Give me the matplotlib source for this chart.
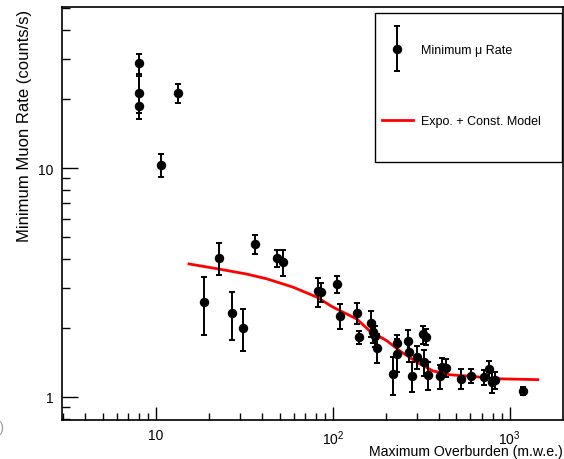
import numpy as np
import matplotlib
matplotlib.use("Agg")
import matplotlib.pyplot as plt
from matplotlib.patches import Rectangle
from matplotlib.container import ErrorbarContainer
from matplotlib.legend_handler import HandlerErrorbar
from matplotlib.ticker import FixedLocator, FixedFormatter, NullFormatter

plt.rcParams['font.family'] = ['Liberation Sans', 'DejaVu Sans']
plt.rcParams['mathtext.fontset'] = 'custom'
plt.rcParams['mathtext.rm'] = 'Liberation Sans'

# --- data ---
overburden = [8.0, 8.0, 8.0, 13.3, 10.7, 18.7, 22.7, 26.8, 31.0, 36.2,
              48.3, 52.2, 82.3, 85.5, 105.4, 109.5, 136.7, 140.3, 164, 168,
              173, 177, 218, 230, 230, 265, 269, 279, 298, 322,
              335, 327, 344, 402, 413, 435, 528, 603, 713, 760,
              790, 822, 1184]
min_rate = [28.7, 21.3, 18.7, 21.3, 10.3, 2.60, 4.05, 2.33, 2.00, 4.66,
            4.05, 3.89, 2.90, 2.87, 3.11, 2.26, 2.33, 1.83, 2.10, 1.92,
            1.85, 1.64, 1.26, 1.54, 1.72, 1.76, 1.57, 1.235, 1.50, 1.88,
            1.83, 1.42, 1.247, 1.235, 1.352, 1.34, 1.20, 1.235, 1.22, 1.325,
            1.163, 1.186, 1.062]
rate_err = [2.9, 3.9, 2.3, 2.0, 1.2, 0.73, 0.63, 0.55, 0.41, 0.45,
            0.35, 0.51, 0.42, 0.27, 0.27, 0.28, 0.25, 0.12, 0.27, 0.2,
            0.2, 0.24, 0.24, 0.25, 0.15, 0.2, 0.15, 0.18, 0.17, 0.17,
            0.15, 0.18, 0.17, 0.15, 0.13, 0.12, 0.12, 0.09, 0.09, 0.11,
            0.12, 0.1, 0.04]

# expo + const model curve
model_x = [15.4, 22.7, 32.7, 42.4, 59.4, 81.2, 100, 136.7, 162, 202,
           239, 298, 367, 458, 571, 878, 1440]
model_y = [3.81, 3.62, 3.44, 3.28, 3.02, 2.73, 2.47, 2.19, 1.94, 1.76,
           1.59, 1.42, 1.30, 1.25, 1.235, 1.20, 1.19]

fig = plt.figure(figsize=(5.64, 4.60), dpi=100)
ax = fig.add_axes([62/564, 1 - 421/460, 501/564, 413/460])

eb = ax.errorbar(overburden, min_rate, yerr=rate_err, fmt='o', color='black',
                 ms=5.8, elinewidth=1.4, capsize=2.2, capthick=1.4,
                 label='Minimum \u03bc Rate', zorder=3)
model_line, = ax.plot(model_x, model_y, color='red', lw=2.0,
                      label='Expo. + Const. Model', zorder=2)

ax.set_xscale('log')
ax.set_yscale('log')
ax.set_xlim(2.95, 2000)
ax.set_ylim(0.793, 50.5)

# --- ticks (ROOT style: inside, bottom/left only) ---
ax.xaxis.set_major_locator(FixedLocator([10, 100, 1000]))
ax.xaxis.set_major_formatter(FixedFormatter(['10', r'$\mathdefault{10^{2}}$',
                                             r'$\mathdefault{10^{3}}$']))
xminor = [m * d for d in [1, 10, 100] for m in range(2, 10)]
ax.xaxis.set_minor_locator(FixedLocator(xminor))
ax.xaxis.set_minor_formatter(NullFormatter())

ax.yaxis.set_major_locator(FixedLocator([1, 10]))
ax.yaxis.set_major_formatter(FixedFormatter(['1', '10']))
yminor = [0.8, 0.9] + [m * d for d in [1, 10] for m in range(2, 10)]
ax.yaxis.set_minor_locator(FixedLocator(yminor))
ax.yaxis.set_minor_formatter(NullFormatter())

ax.tick_params(axis='both', which='both', direction='in', top=False,
               right=False, width=1.0, labelsize=10, pad=6)
ax.tick_params(axis='x', which='major', length=9.5)
ax.tick_params(axis='x', which='minor', length=5)
ax.tick_params(axis='y', which='major', length=11.5)
ax.tick_params(axis='y', which='minor', length=5.8)
for s in ax.spines.values():
    s.set_linewidth(1.2)

# --- axis titles (right/top aligned like ROOT) ---
fig.text(25/564, 1 - 10/460, 'Minimum Muon Rate (counts/s)', rotation=90,
         ha='center', va='top', fontsize=12)
fig.text(563/564, 1 - 456/460, 'Maximum Overburden (m.w.e.)', ha='right',
         va='baseline', fontsize=10.2)
fig.text(4/564, 1 - 428/460, '(b)', ha='right', va='center', fontsize=10,
         color='0.6')

# --- legend box ---
ax.add_patch(Rectangle((313/501, 258/413), 187/501, 149/413,
                       transform=ax.transAxes, facecolor='white',
                       edgecolor='black', lw=1.0, zorder=4))
leg = ax.legend(handles=[eb, model_line], loc='upper left',
                bbox_to_anchor=((382 - 62)/501, (421 - 45)/413),
                frameon=False, fontsize=9, numpoints=1, handlelength=2.45,
                handletextpad=0.65, labelspacing=4.75, borderpad=0,
                borderaxespad=0,
                handler_map={ErrorbarContainer: HandlerErrorbar(xerr_size=0.5,
                                                                yerr_size=1.8)})
leg.set_zorder(5)

fig.savefig('out.png', dpi=100)
